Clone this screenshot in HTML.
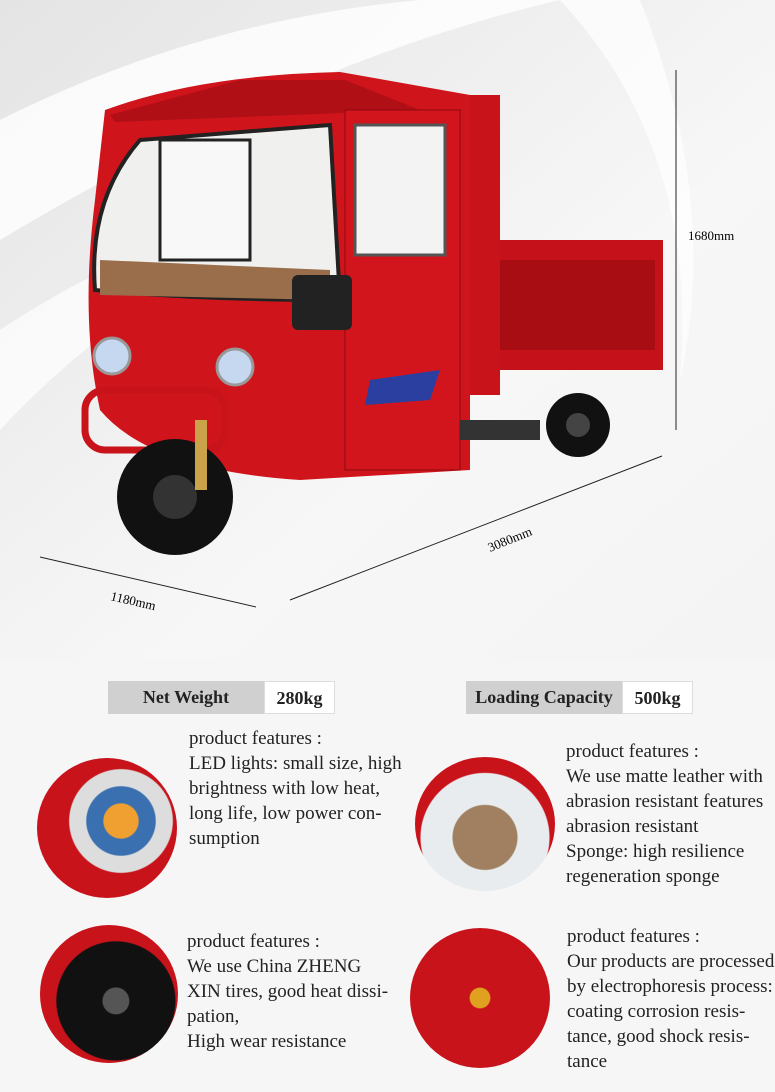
<!DOCTYPE html>
<html><head><style>
body{margin:0;width:775px;height:1092px;position:relative;overflow:hidden;background:#f6f6f6;font-family:"Liberation Serif",serif;color:#222}
.a{position:absolute}
.t{font-size:19px;line-height:25px;white-space:nowrap}
.box{position:absolute;height:33px;font-size:18px;font-weight:bold;line-height:33px;text-align:center}
.g{background:#d0d0d0}.w{background:#fff;border:1px solid #ddd;box-sizing:border-box}
</style></head><body>
<svg class="a" style="left:0;top:0" width="775" height="660">
<defs><linearGradient id="bg" x1="0" y1="0" x2="1" y2="1"><stop offset="0" stop-color="#e4e4e4"/><stop offset="0.6" stop-color="#f7f7f7"/><stop offset="1" stop-color="#f4f4f4"/></linearGradient></defs>
<rect width="775" height="660" fill="url(#bg)"/>
<path d="M0 120 Q200 20 420 0 L560 0 Q300 60 0 240Z" fill="#fff" opacity="0.8"/>
<path d="M0 330 Q150 230 320 200 Q120 300 0 430Z" fill="#fff" opacity="0.7"/>
<path d="M560 0 Q700 150 680 380 Q720 200 640 0Z" fill="#fff" opacity="0.7"/>
<line x1="676" y1="70" x2="676" y2="430" stroke="#222"/>
<line x1="290" y1="600" x2="662" y2="456" stroke="#222"/>
<line x1="40" y1="557" x2="256" y2="607" stroke="#222"/>
<text x="688" y="240" font-size="13" font-family="Liberation Serif">1680mm</text>
<text x="490" y="552" font-size="13" font-family="Liberation Serif" transform="rotate(-22 490 552)">3080mm</text>
<text x="110" y="600" font-size="13" font-family="Liberation Serif" transform="rotate(13 110 600)">1180mm</text>
<rect x="465" y="240" width="198" height="130" fill="#c5121a"/>
<rect x="485" y="260" width="170" height="90" fill="#a80d14"/>
<rect x="470" y="95" width="30" height="300" fill="#c8131b"/>
<path d="M105 110 Q200 75 340 72 L470 95 L470 470 L300 480 Q150 470 100 410 Q80 320 95 200Z" fill="#d0141c"/>
<path d="M110 115 L240 80 L345 80 L420 110 L115 122Z" fill="#b00f16"/>
<path d="M95 290 Q88 200 140 140 L330 125 L340 300 Q200 300 95 290Z" fill="#f0f0ee" stroke="#222" stroke-width="4"/>
<rect x="160" y="140" width="90" height="120" fill="#f8f8f8" stroke="#222" stroke-width="3"/>
<rect x="355" y="125" width="90" height="130" fill="#f3f3f3" stroke="#555" stroke-width="3"/>
<path d="M100 260 L330 270 L330 300 L100 295Z" fill="#9a6e4a"/>
<rect x="345" y="110" width="115" height="360" fill="#d2151d" stroke="#8a0a10"/>
<rect x="355" y="125" width="90" height="130" fill="#f3f3f3" stroke="#555" stroke-width="3"/>
<rect x="292" y="275" width="60" height="55" rx="6" fill="#222"/>
<circle cx="112" cy="356" r="18" fill="#c5d8f0" stroke="#999" stroke-width="3"/>
<circle cx="235" cy="367" r="18" fill="#c5d8f0" stroke="#999" stroke-width="3"/>
<rect x="85" y="390" width="140" height="60" rx="20" fill="none" stroke="#c8131b" stroke-width="7"/>
<circle cx="175" cy="497" r="58" fill="#111"/><circle cx="175" cy="497" r="22" fill="#333"/>
<rect x="195" y="420" width="12" height="70" fill="#c9a24a"/>
<circle cx="578" cy="425" r="32" fill="#111"/><circle cx="578" cy="425" r="12" fill="#444"/>
<path d="M370 380 L440 370 L430 400 L365 405Z" fill="#2a3fa0"/>
<rect x="460" y="420" width="80" height="20" fill="#333"/>
</svg>
<div class="box g" style="left:108px;top:681px;width:156px">Net Weight</div>
<div class="box w" style="left:264px;top:681px;width:71px">280kg</div>
<div class="box g" style="left:466px;top:681px;width:156px">Loading Capacity</div>
<div class="box w" style="left:622px;top:681px;width:71px">500kg</div>

<div class="a" style="left:37px;top:758px;width:140px;height:140px;border-radius:50%;background:radial-gradient(circle at 60% 45%,#f0a030 0 15%,#3a6fb0 16% 30%,#ddd 31% 45%,#c8131b 46%)"></div>
<div class="a" style="left:415px;top:757px;width:140px;height:134px;border-radius:50%;background:radial-gradient(circle at 50% 60%,#a08060 0 30%,#e8ecee 31% 60%,#c8131b 61%)"></div>
<div class="a" style="left:40px;top:925px;width:138px;height:138px;border-radius:50%;background:radial-gradient(circle at 55% 55%,#555 0 12%,#111 13% 55%,#c8131b 56%)"></div>
<div class="a" style="left:410px;top:928px;width:140px;height:140px;border-radius:50%;background:radial-gradient(circle at 50% 50%,#e0a020 0 10%,#c8131b 11%)"></div>

<div class="a t" style="left:189px;top:726px">product features :<br>LED lights: small size, high<br>brightness with low heat,<br>long life, low power con-<br>sumption</div>
<div class="a t" style="left:566px;top:739px">product features :<br>We use matte leather with<br>abrasion resistant features<br>abrasion resistant<br>Sponge: high resilience<br>regeneration sponge</div>
<div class="a t" style="left:187px;top:929px">product features :<br>We use China ZHENG<br>XIN tires, good heat dissi-<br>pation,<br>High wear resistance</div>
<div class="a t" style="left:567px;top:924px">product features :<br>Our products are processed<br>by electrophoresis process:<br>coating corrosion resis-<br>tance, good shock resis-<br>tance</div>
</body></html>
